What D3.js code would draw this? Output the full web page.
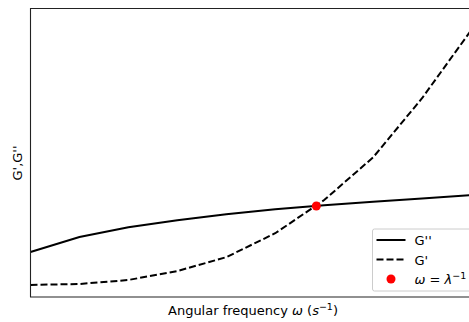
<!DOCTYPE html>
<html>
<head>
<meta charset="utf-8">
<script src="https://cdn.jsdelivr.net/npm/d3@7"></script>
<style>
  body { margin: 0; background: #fff; }
  text { font-family: "DejaVu Sans", sans-serif; }
</style>
</head>
<body>
<div id="chart"></div>
<script>
// data (arbitrary units)
const freq = [1, 2, 3, 4, 5, 6, 7, 8, 9, 10];
const gDoublePrime = [15.6, 20.8, 24.2, 26.6, 28.7, 30.4, 31.8, 33.0, 34.1, 35.3];
const gPrime = [4.2, 4.5, 5.9, 9.0, 13.8, 22.1, 33.6, 48.4, 68.9, 92.4];
const crossover = [6.84, 31.55];

const width = 469;
const height = 322;
const margin = { top: 8.5, right: -2, bottom: 25, left: 30.5 };

const svg = d3.select("#chart")
    .append("svg")
    .attr("width", width)
    .attr("height", height);

const x = d3.scaleLinear()
    .domain([1, 10])
    .range([margin.left, width - margin.right]);

const y = d3.scaleLinear()
    .domain([0, 100])
    .range([height - margin.bottom, margin.top]);

const line = d3.line()
    .x((d, i) => x(freq[i]))
    .y((d) => y(d));

svg.append("path")
    .datum(gDoublePrime)
    .attr("d", line)
    .attr("fill", "none")
    .attr("stroke", "#000")
    .attr("stroke-width", 2);

svg.append("path")
    .datum(gPrime)
    .attr("d", line)
    .attr("fill", "none")
    .attr("stroke", "#000")
    .attr("stroke-width", 2)
    .attr("stroke-dasharray", "7,3");

svg.append("circle")
    .attr("cx", x(crossover[0]))
    .attr("cy", y(crossover[1]))
    .attr("r", 4.5)
    .attr("fill", "#ff0000");

// spines (left, top, bottom; right one is off the page)
const x0 = margin.left, y0 = margin.top, y1 = height - margin.bottom;
svg.append("path")
    .attr("d", `M${width + 5},${y0}H${x0}V${y1}H${width + 5}`)
    .attr("fill", "none")
    .attr("stroke", "#222")
    .attr("stroke-width", 1.1);

// axis labels
svg.append("text")
    .attr("x", 253)
    .attr("y", 315)
    .attr("text-anchor", "middle")
    .attr("font-size", "13px")
    .html('Angular frequency <tspan font-style="italic">ω</tspan> (<tspan font-style="italic">s</tspan><tspan dy="-5" font-size="9.5px">−1</tspan><tspan dy="5">)</tspan>');

svg.append("text")
    .attr("transform", "translate(22,163) rotate(-90)")
    .attr("text-anchor", "middle")
    .attr("font-size", "13px")
    .text("G',G''");

// legend
const lg = svg.append("g").attr("transform", "translate(372.5,229)");
lg.append("rect")
    .attr("width", 110)
    .attr("height", 62)
    .attr("rx", 2)
    .attr("fill", "#fff")
    .attr("fill-opacity", 0.8)
    .attr("stroke", "#ccc");

const items = [
    { label: "G''", type: "solid" },
    { label: "G'", type: "dash" },
    { label: "dot", type: "dot" }
];

items.forEach((it, i) => {
    const yy = 11 + i * 19.5;
    if (it.type === "dot") {
        lg.append("circle")
            .attr("cx", 18.5)
            .attr("cy", yy)
            .attr("r", 4.5)
            .attr("fill", "#ff0000");
        lg.append("text")
            .attr("x", 42)
            .attr("y", yy + 5)
            .attr("font-size", "13px")
            .html('<tspan font-style="italic">ω</tspan> = <tspan font-style="italic">λ</tspan><tspan dy="-5" font-size="9.5px">−1</tspan>');
    } else {
        lg.append("line")
            .attr("x1", 4).attr("x2", 33)
            .attr("y1", yy).attr("y2", yy)
            .attr("stroke", "#000")
            .attr("stroke-width", 2)
            .attr("stroke-dasharray", it.type === "dash" ? "7,3" : null);
        lg.append("text")
            .attr("x", 42)
            .attr("y", yy + 5)
            .attr("font-size", "13px")
            .text(it.label);
    }
});
</script>
</body>
</html>
